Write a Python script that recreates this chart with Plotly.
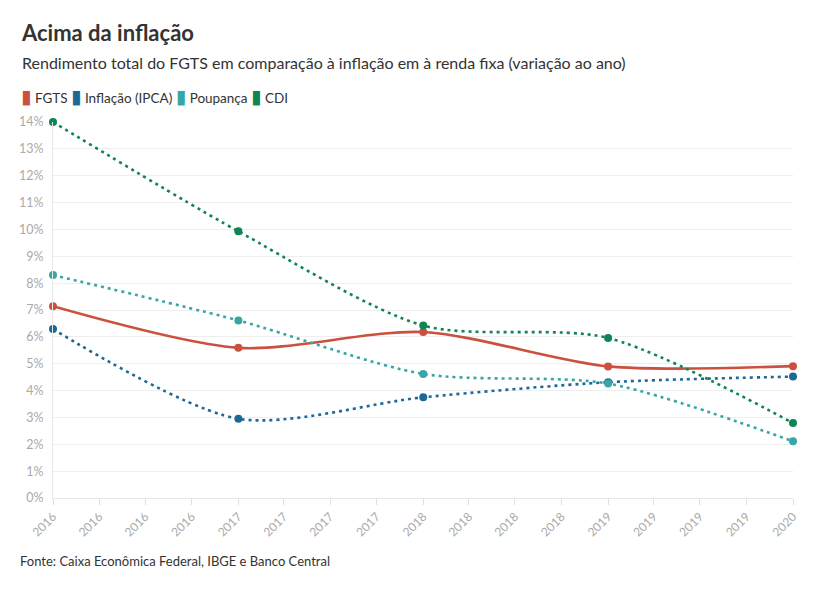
import plotly.graph_objects as go

years = ["2016-01-01", "2017-01-01", "2018-01-01", "2019-01-01", "2020-01-01"]
fgts = [7.14, 5.59, 6.18, 4.90, 4.91]
ipca = [6.29, 2.95, 3.75, 4.31, 4.52]
poupanca = [8.30, 6.61, 4.62, 4.26, 2.11]
cdi = [14.00, 9.93, 6.42, 5.96, 2.79]

series = [
    ("FGTS", fgts, "#CC503E", "solid"),
    ("Inflação (IPCA)", ipca, "#1D6996", "3px,4px"),
    ("Poupança", poupanca, "#38A6A5", "3px,4px"),
    ("CDI", cdi, "#0F8554", "3px,4px"),
]

FONT = "Lato"
fig = go.Figure()
for name, vals, color, dash in series:
    fig.add_trace(go.Scatter(
        x=years, y=vals, name=name, mode="lines+markers",
        line=dict(color=color, width=2.6, dash=dash, shape="spline", smoothing=0.8),
        marker=dict(color=color, size=8),
        cliponaxis=False, showlegend=False,
        hovertemplate="%{y:.2f}%<extra>" + name + "</extra>",
    ))

legend_text = "&nbsp;".join(
    f"<span style='color:{c};font-size:19px;font-family:DejaVu Sans'>▮</span>&nbsp;{n}"
    for n, _, c, _ in series
)

fig.update_layout(
    width=837, height=606,
    margin=dict(l=53, r=44, t=122, b=108),
    paper_bgcolor="white", plot_bgcolor="white",
    font=dict(family=FONT, color="#333333"),
    showlegend=False,
    title=dict(text="<b>Acima da inflação</b>", x=22 / 837, xref="container",
               y=1 - 33 / 606, yref="container", xanchor="left", yanchor="middle",
               font=dict(size=22, color="#333333", family=FONT)),
    xaxis=dict(
        type="date", range=["2016-01-01", "2020-01-01"],
        tick0="2016-01-01", dtick="M3", tickformat="%Y", tickangle=-45,
        tickfont=dict(size=12, color="#aaaaaa"),
        showgrid=False, zeroline=False, showline=True, linecolor="#e8e8e8",
        ticks="outside", ticklen=6, tickcolor="#e0e0e0",
    ),
    yaxis=dict(
        range=[0, 14], dtick=1, ticksuffix="%",
        tickfont=dict(size=12.5, color="#aaaaaa"),
        showgrid=True, gridcolor="#eeeeee", zeroline=False,
        showline=True, linecolor="#e8e8e8", ticks="", ticklen=0,
        ticklabelstandoff=6,
    ),
    annotations=[
        dict(text="Rendimento total do FGTS em comparação à inflação em à renda fixa (variação ao ano)",
             xref="paper", yref="paper", x=(20 - 53) / 740, y=(498 - 62) / 376,
             xanchor="left", yanchor="middle", showarrow=False,
             font=dict(size=16, color="#333333", family=FONT)),
        dict(text=legend_text,
             xref="paper", yref="paper", x=(19 - 53) / 740, y=(498 - 96) / 376,
             xanchor="left", yanchor="middle", showarrow=False,
             font=dict(size=13.5, color="#333333", family=FONT)),
        dict(text="Fonte: Caixa Econômica Federal, IBGE e Banco Central",
             xref="paper", yref="paper", x=(18 - 53) / 740, y=(498 - 561) / 376,
             xanchor="left", yanchor="middle", showarrow=False,
             font=dict(size=13, color="#333333", family=FONT)),
    ],
)

fig.write_html("out.html", post_script="document.body.style.margin='0px';",
               config={"displayModeBar": False})
